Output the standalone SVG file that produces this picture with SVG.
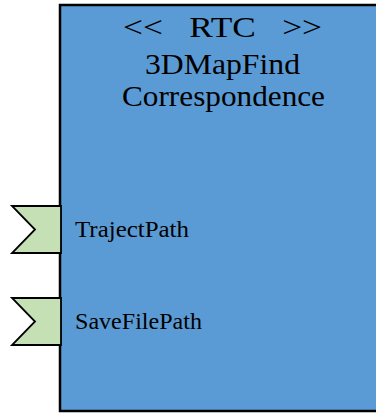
<svg xmlns="http://www.w3.org/2000/svg" width="376" height="414" viewBox="0 0 376 414">
  <style>
    .body { fill: #5B9BD5; stroke: #000; stroke-width: 2.5; }
    .port { fill: #C5E0B4; stroke: #000; stroke-width: 1.8; stroke-linejoin: miter; }
    .title { font-family: "Liberation Serif", "DejaVu Serif", serif; font-size: 30px; fill: #000; }
    .label { font-family: "Liberation Serif", "DejaVu Serif", serif; font-size: 23px; fill: #000; }
  </style>
  <rect width="376" height="414" fill="#fff"/>
  <g id="component">
    <rect class="body" x="60" y="5" width="330" height="406"/>
    <text class="title" x="123" y="37" textLength="199" lengthAdjust="spacingAndGlyphs" xml:space="preserve">&lt;&lt;   RTC   &gt;&gt;</text>
    <text class="title" x="145" y="74" textLength="155" lengthAdjust="spacingAndGlyphs">3DMapFind</text>
    <text class="title" x="122" y="106" textLength="203" lengthAdjust="spacingAndGlyphs">Correspondence</text>
  </g>
  <g id="port-TrajectPath">
    <polygon class="port" points="12,206 61,206 61,253 12,253 35,229.5"/>
    <text class="label" x="75" y="237" textLength="114" lengthAdjust="spacingAndGlyphs">TrajectPath</text>
  </g>
  <g id="port-SaveFilePath">
    <polygon class="port" points="12,298 61,298 61,345 12,345 35,321.5"/>
    <text class="label" x="75" y="329" textLength="127" lengthAdjust="spacingAndGlyphs">SaveFilePath</text>
  </g>
  <g id="connectors"/>
</svg>
